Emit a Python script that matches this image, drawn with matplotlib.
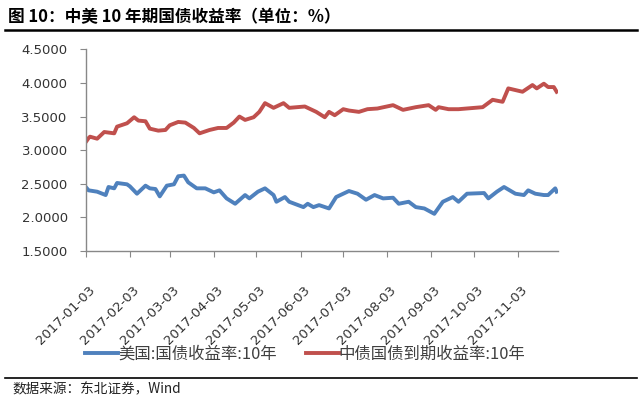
import matplotlib
matplotlib.use('Agg')
import matplotlib.pyplot as plt
import matplotlib.dates as mdates
import matplotlib.transforms as mtransforms
from matplotlib.lines import Line2D
import pandas as pd

plt.rcParams['font.family'] = ['Noto Sans CJK SC', 'DejaVu Sans']

title = '图 10：中美 10 年期国债收益率（单位：%）'
source = '数据来源：东北证券，Wind'
us_label = '美国:国债收益率:10年'
cn_label = '中债国债到期收益率:10年'

us_dates = ['2017-01-03', '2017-01-05', '2017-01-11', '2017-01-17', '2017-01-19', '2017-01-23',
            '2017-01-25', '2017-02-01', '2017-02-03', '2017-02-08', '2017-02-14', '2017-02-17',
            '2017-02-21', '2017-02-24', '2017-03-01', '2017-03-06', '2017-03-09', '2017-03-13',
            '2017-03-16', '2017-03-22', '2017-03-28', '2017-04-03', '2017-04-07', '2017-04-12',
            '2017-04-18', '2017-04-25', '2017-04-28', '2017-05-04', '2017-05-09', '2017-05-15',
            '2017-05-17', '2017-05-23', '2017-05-26', '2017-06-05', '2017-06-08', '2017-06-12',
            '2017-06-16', '2017-06-23', '2017-06-28', '2017-07-03', '2017-07-07', '2017-07-13',
            '2017-07-19', '2017-07-25', '2017-07-31', '2017-08-07', '2017-08-11', '2017-08-18',
            '2017-08-23', '2017-08-29', '2017-09-05', '2017-09-11', '2017-09-18', '2017-09-22',
            '2017-09-28', '2017-10-10', '2017-10-13', '2017-10-19', '2017-10-24', '2017-11-01',
            '2017-11-07', '2017-11-10', '2017-11-15', '2017-11-21', '2017-11-24', '2017-11-29',
            '2017-11-30']
us_yield = [2.45, 2.40, 2.38, 2.33, 2.45, 2.43,
            2.51, 2.49, 2.46, 2.35, 2.47, 2.43,
            2.42, 2.31, 2.47, 2.49, 2.61, 2.62,
            2.52, 2.43, 2.43, 2.37, 2.40, 2.28,
            2.20, 2.33, 2.28, 2.38, 2.43, 2.33,
            2.23, 2.30, 2.23, 2.15, 2.20, 2.15,
            2.18, 2.13, 2.30, 2.35, 2.39, 2.35,
            2.26, 2.33, 2.28, 2.29, 2.20, 2.23,
            2.15, 2.13, 2.05, 2.23, 2.30, 2.23,
            2.35, 2.36, 2.28, 2.38, 2.45, 2.35,
            2.33, 2.40, 2.35, 2.33, 2.33, 2.43,
            2.38]

cn_dates = ['2017-01-03', '2017-01-05', '2017-01-06', '2017-01-11', '2017-01-16', '2017-01-23',
            '2017-01-25', '2017-02-01', '2017-02-06', '2017-02-09', '2017-02-14', '2017-02-17',
            '2017-02-23', '2017-02-28', '2017-03-03', '2017-03-09', '2017-03-14', '2017-03-20',
            '2017-03-24', '2017-03-31', '2017-04-06', '2017-04-12', '2017-04-17', '2017-04-21',
            '2017-04-25', '2017-05-01', '2017-05-05', '2017-05-09', '2017-05-15', '2017-05-22',
            '2017-05-26', '2017-06-06', '2017-06-14', '2017-06-20', '2017-06-23', '2017-06-27',
            '2017-07-03', '2017-07-07', '2017-07-14', '2017-07-20', '2017-07-27', '2017-08-07',
            '2017-08-14', '2017-08-23', '2017-09-01', '2017-09-06', '2017-09-08', '2017-09-15',
            '2017-09-22', '2017-10-09', '2017-10-16', '2017-10-23', '2017-10-27', '2017-11-06',
            '2017-11-13', '2017-11-16', '2017-11-21', '2017-11-24', '2017-11-28', '2017-11-30']
cn_yield = [3.12, 3.18, 3.20, 3.17, 3.27, 3.25,
            3.35, 3.40, 3.49, 3.44, 3.43, 3.32,
            3.29, 3.30, 3.37, 3.42, 3.41, 3.33,
            3.25, 3.30, 3.33, 3.33, 3.41, 3.50,
            3.45, 3.49, 3.57, 3.70, 3.63, 3.70,
            3.63, 3.65, 3.57, 3.49, 3.57, 3.52,
            3.61, 3.59, 3.57, 3.61, 3.62, 3.67,
            3.60, 3.64, 3.67, 3.60, 3.64, 3.61,
            3.61, 3.64, 3.75, 3.72, 3.92, 3.87,
            3.97, 3.92, 3.99, 3.94, 3.94, 3.87]

tick_dates = ['2017-01-03', '2017-02-03', '2017-03-03', '2017-04-03', '2017-05-03', '2017-06-03',
              '2017-07-03', '2017-08-03', '2017-09-03', '2017-10-03', '2017-11-03']
y_ticks = [1.5, 2.0, 2.5, 3.0, 3.5, 4.0, 4.5]

fig = plt.figure(figsize=(6.4, 4.09), dpi=100)
ax = fig.add_axes([0.134, 0.387, 0.738, 0.492])

ax.plot(pd.to_datetime(us_dates), us_yield, color='#4F81BD', lw=2.8, solid_joinstyle='round')
ax.plot(pd.to_datetime(cn_dates), cn_yield, color='#C0504D', lw=2.8, solid_joinstyle='round')

ax.set_ylim(1.5, 4.5)
ax.set_yticks(y_ticks)
ax.yaxis.set_major_formatter(matplotlib.ticker.FormatStrFormatter('%.4f'))
ax.set_xlim(pd.Timestamp('2017-01-03'), pd.Timestamp('2017-12-01'))
ax.set_xticks(pd.to_datetime(tick_dates))
ax.xaxis.set_major_formatter(mdates.DateFormatter('%Y-%m-%d'))

for s in ['top', 'right']:
    ax.spines[s].set_visible(False)
for s in ['left', 'bottom']:
    ax.spines[s].set_color('#888888')
    ax.spines[s].set_linewidth(1.0)
ax.tick_params(axis='both', direction='out', length=4, color='#888888', labelcolor='#333333',
               labelsize=9.5)
ax.tick_params(axis='x', pad=23)
ax.tick_params(axis='y', pad=9)

# nudge rotated date labels a little to the right, like the original
shift = mtransforms.ScaledTranslation(5 / 72, 0, fig.dpi_scale_trans)
for lab in ax.get_yticklabels():
    lab.set_family('DejaVu Sans')
for lab in ax.get_xticklabels():
    lab.set_family('DejaVu Sans')
    lab.set_rotation(45)
    lab.set_ha('right')
    lab.set_va('center')
    lab.set_rotation_mode('anchor')
    lab.set_transform(lab.get_transform() + shift)

handles = [Line2D([], [], color='#4F81BD', lw=2.8), Line2D([], [], color='#C0504D', lw=2.8)]
fig.legend(handles, [us_label, cn_label], loc='center left', bbox_to_anchor=(0.11, 0.134),
           ncol=2, frameon=False, fontsize=11.8, handlelength=2.0, handletextpad=0.0,
           columnspacing=1.8, labelcolor='#404040')

fig.text(0.012, 0.958, title, fontsize=12, fontweight='bold', va='center', ha='left')
fig.add_artist(Line2D([0.008, 0.995], [0.926, 0.926], color='black', lw=1.8))
fig.add_artist(Line2D([0.008, 0.995], [0.077, 0.077], color='black', lw=1.2))
fig.text(0.02, 0.049, source, fontsize=9.8, va='center', ha='left', color='#222222')

fig.savefig('out.png', dpi=100)
